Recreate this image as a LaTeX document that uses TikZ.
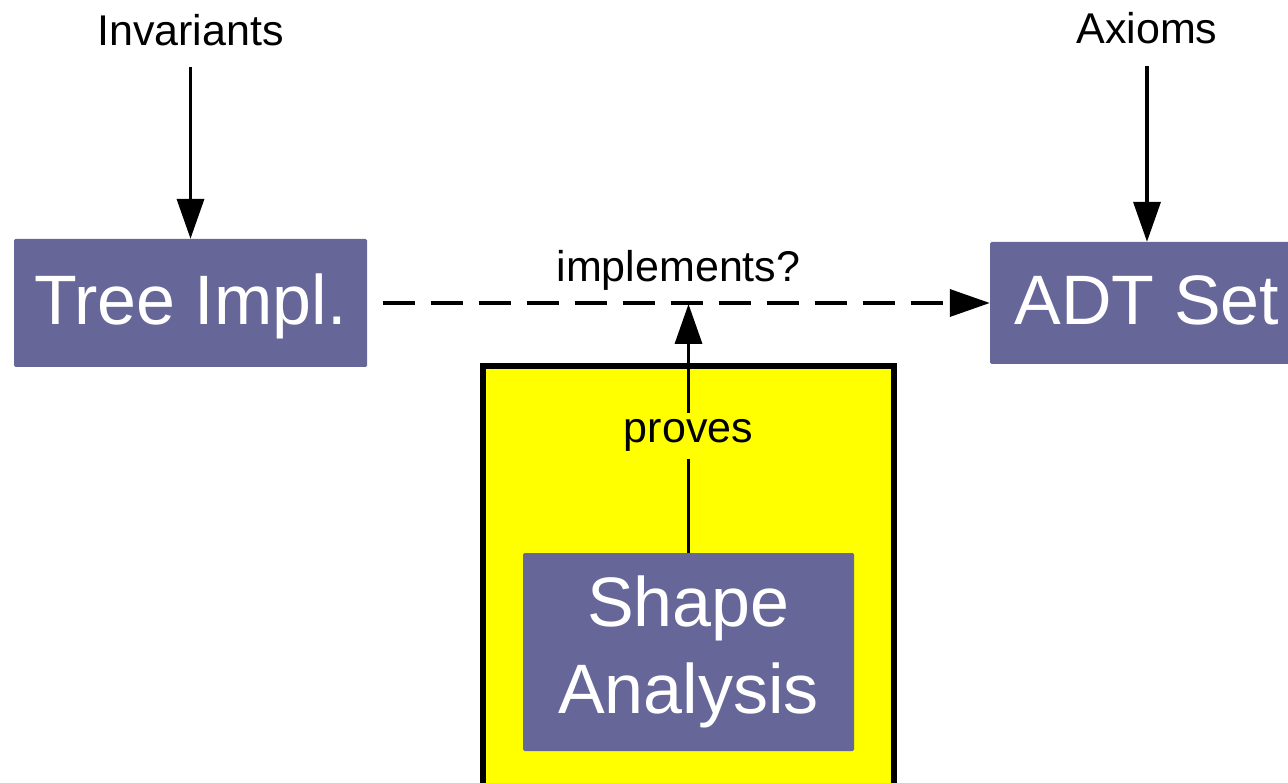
\documentclass[tikz,border=0pt]{standalone}
\usepackage{fontspec}
\setmainfont{Liberation Sans}
\usetikzlibrary{arrows.meta}
\definecolor{boxblue}{RGB}{102,102,153}
\definecolor{frameyellow}{RGB}{255,255,0}

\begin{document}
\begin{tikzpicture}[
  x=1pt,y=-1pt,
  box/.style={fill=boxblue,text=white,rounded corners=1.5pt,align=center,
              inner sep=0pt,font=\fontsize{70}{87}\selectfont},
  onebox/.style={box,text height=56pt,text depth=12pt},
  lbl/.style={inner sep=0pt,font=\fontsize{43}{50}\selectfont},
  ar/.style={line width=3.6pt,-{Triangle[length=40pt,width=27pt]}}]
\useasboundingbox (0,0) rectangle (1288,783);
\clip (0,0) rectangle (1288,783);
% tool frame
\node[draw,line width=6pt,fill=frameyellow,minimum width=411pt,minimum height=434pt] (tool) at (688.5,583) {};
\node[onebox,minimum width=353pt,minimum height=128pt] (tree) at (190.5,303) {Tree Impl.};
\node[onebox,minimum width=314pt,minimum height=122pt] (adt) at (1147,303) {ADT Set};
\node[box,minimum width=331pt,minimum height=198pt] (shape) at (688.5,652) {Shape\\Analysis};
\node[lbl] (inv) at (190.5,30) {Invariants};
\node[lbl] (ax) at (1147,28) {Axioms};
\coordinate (hit) at (688.5,304);
\draw[ar,shorten <=21pt] (inv) -- (tree);
\draw[ar,shorten <=22pt] (ax) -- (adt);
\draw[ar,dash pattern=on 32pt off 16pt,shorten <=16pt] (tree) -- node[lbl,above=11pt] (impl) {implements?} (adt);
\draw[ar] (shape) -- node[lbl,fill=frameyellow,inner sep=7pt,pos=0.47] (prv) {proves} (hit);
\end{tikzpicture}
\end{document}
